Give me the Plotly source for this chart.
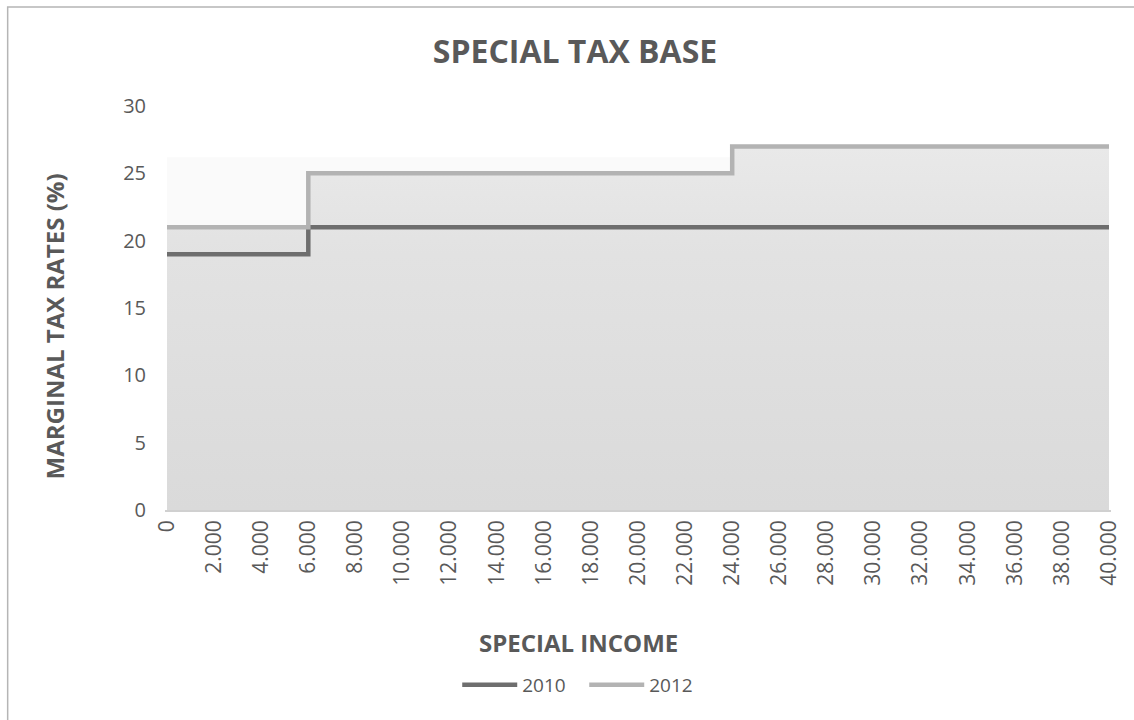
import plotly.graph_objects as go

# Tax brackets: income thresholds and the marginal rate that applies from each one
income = [0, 6000, 24000, 40000]
rates_2010 = [19, 21, 21, 21]
rates_2012 = [21, 25, 27, 27]

tick_values = list(range(0, 40001, 2000))
tick_labels = ["0"] + [f"{v // 1000}.000" for v in tick_values[1:]]

TEXT = "#595959"
FONT = "Open Sans"
C2010 = "#6e6e6e"
C2012 = "#b3b3b3"

# plot-area geometry in pixels
W, H = 1134, 720
L, R, T, B = 165, 19, 106, 210
PW, PH = W - L - R, H - T - B


def px_x(x):
    return (x - L) / PW


def px_y(y):
    return (H - B - y) / PH


fig = go.Figure()

# shaded area under the 2012 schedule
fig.add_trace(go.Scatter(
    x=income, y=rates_2012, mode="none", line_shape="hv",
    fill="tozeroy",
    fillgradient=dict(type="vertical",
                      colorscale=[[0, "#dadada"], [0.7, "#e2e2e2"], [1, "#e9e9e9"]]),
    showlegend=False, hoverinfo="skip",
))

fig.add_trace(go.Scatter(
    x=income, y=rates_2010, name="2010", mode="lines", line_shape="hv",
    line=dict(color=C2010, width=4.5),
))
fig.add_trace(go.Scatter(
    x=income, y=rates_2012, name="2012", mode="lines", line_shape="hv",
    line=dict(color=C2012, width=4.5),
))

shapes = [
    # faint band behind the series
    dict(type="rect", xref="x", yref="y", x0=income[0], x1=income[-1], y0=0, y1=26.2,
         fillcolor="#fafafa", line=dict(width=0), layer="below"),
    # chart frame
    dict(type="rect", xref="paper", yref="paper",
         x0=px_x(7), x1=px_x(1145), y0=px_y(730), y1=px_y(7),
         line=dict(color="#b5b5b5", width=1.5), fillcolor="rgba(0,0,0,0)", layer="below"),
]

annotations = [
    dict(text="<b>SPECIAL INCOME</b>", xref="paper", yref="paper",
         x=px_x(580), y=px_y(642), xanchor="center", yanchor="middle", showarrow=False,
         font=dict(family=FONT, size=24, color=TEXT)),
    dict(text="<b>MARGINAL TAX RATES (%)</b>", xref="paper", yref="paper",
         x=px_x(54), y=px_y(326), xanchor="center", yanchor="middle",
         showarrow=False, textangle=-90,
         font=dict(family=FONT, size=24, color=TEXT)),
]

fig.update_layout(
    width=W, height=H,
    margin=dict(l=L, r=R, t=T, b=B),
    paper_bgcolor="white", plot_bgcolor="white",
    font=dict(family=FONT, color=TEXT),
    title=dict(text="<b>SPECIAL TAX BASE</b>", x=575 / W, xanchor="center",
               xref="container", y=1 - 52 / H, yanchor="middle", yref="container",
               font=dict(family=FONT, size=32, color=TEXT)),
    xaxis=dict(range=[-85, 40085], tickvals=tick_values, ticktext=tick_labels,
               tickangle=-90, showgrid=False, zeroline=False, showline=True,
               linecolor="#d0d0d0", linewidth=1.5, ticks="",
               tickfont=dict(family=FONT, size=21, color=TEXT)),
    yaxis=dict(range=[0, 30], dtick=5, showgrid=False, zeroline=False,
               showline=False, ticks="", ticklabelstandoff=18,
               tickfont=dict(family=FONT, size=20, color=TEXT)),
    legend=dict(orientation="h", x=px_x(586), xanchor="center", y=px_y(685),
                yanchor="middle", font=dict(family=FONT, size=19, color=TEXT),
                itemwidth=55, entrywidth=57, entrywidthmode="pixels",
                bgcolor="rgba(0,0,0,0)"),
    shapes=shapes,
    annotations=annotations,
    showlegend=True,
)

fig.write_html("out.html")
